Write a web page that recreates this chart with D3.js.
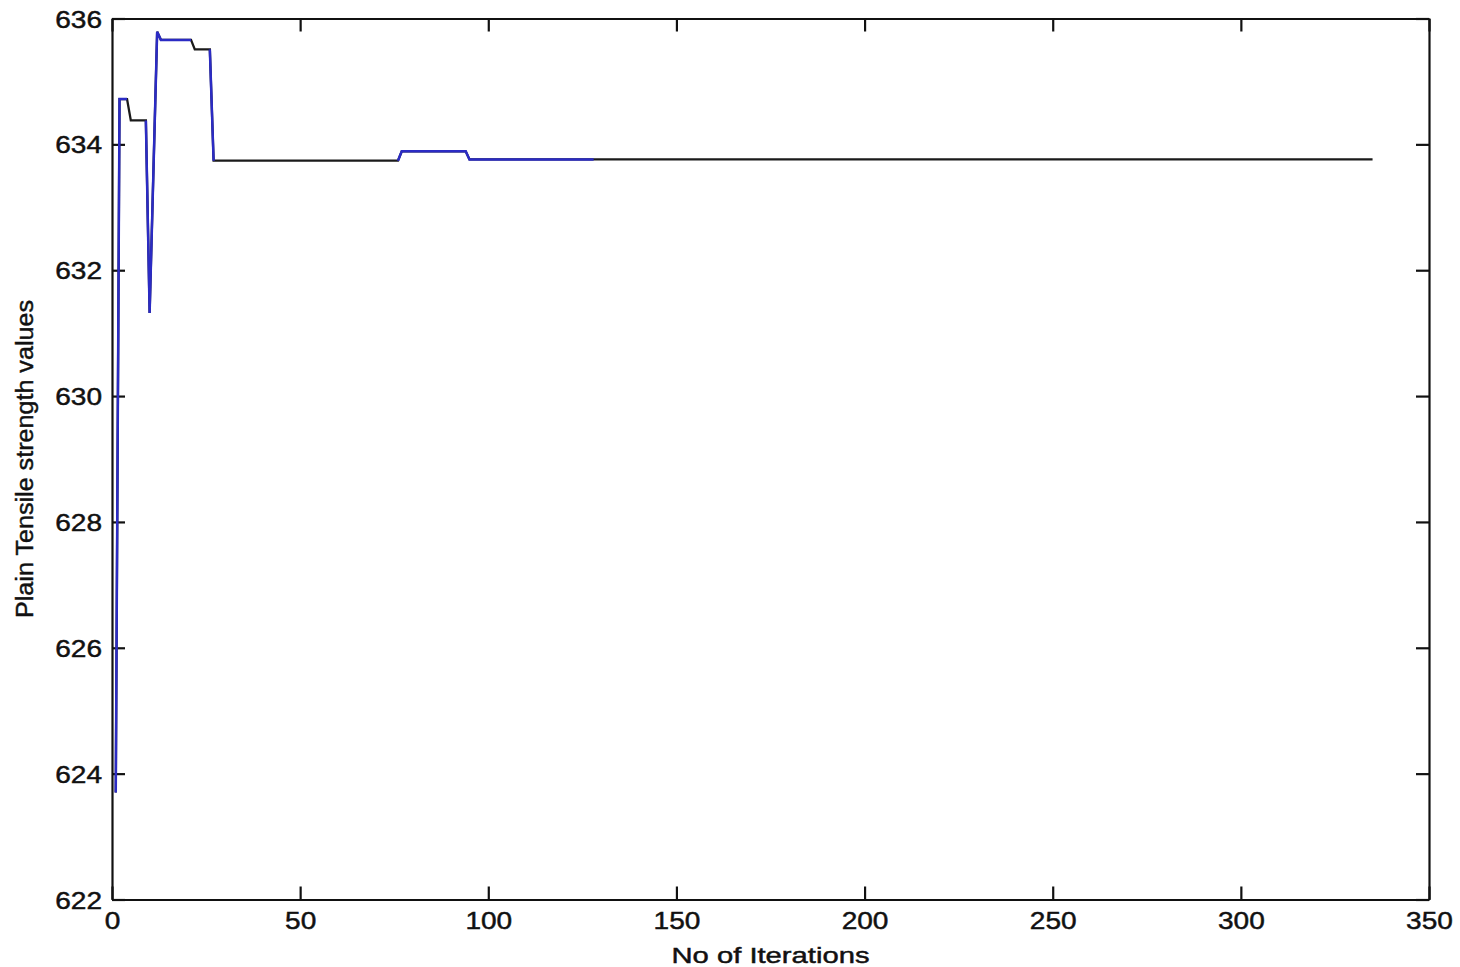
<!DOCTYPE html>
<html>
<head>
<meta charset="utf-8">
<script src="https://cdn.jsdelivr.net/npm/d3@7"></script>
<style>
  body { margin: 0; background: #fff; }
  text { font-family: "Liberation Sans", Arial, sans-serif; fill: #111; stroke: #111; stroke-width: 0.45px; }
</style>
</head>
<body>
<div id="chart"></div>
<script>
// black series: full run of iterations
const blackIter = [1, 2, 4, 5, 9, 10, 12, 13, 21, 22, 26, 27, 76, 77, 94, 95, 335];
const blackVal = [623.7, 634.72, 634.72, 634.38, 634.38, 631.32, 635.79, 635.66, 635.66, 635.51, 635.51, 633.74, 633.74, 633.89, 633.89, 633.76, 633.76];

// blue series: visible parts only (null breaks the line)
const blueIter = [1, 2, 4, 6, 9, 10, 12, 13, 21, 23, 26, 27, 50, 76, 77, 94, 95, 128];
const blueVal = [623.7, 634.72, 634.72, null, 634.38, 631.32, 635.79, 635.66, 635.66, null, 635.51, 633.74, null, 633.74, 633.89, 633.89, 633.76, 633.76];

const xTicks = [0, 50, 100, 150, 200, 250, 300, 350];
const yTicks = [622, 624, 626, 628, 630, 632, 634, 636];

// dimensions
const width = 1460;
const height = 967;
const margin = {top: 18.5, right: 31, bottom: 67.5, left: 112};
const plotWidth = width - margin.left - margin.right;
const plotHeight = height - margin.top - margin.bottom;
const tickLen = 13;
const sx = 1.22;

const svg = d3.select('#chart')
    .append('svg')
    .attr('width', width)
    .attr('height', height);

const g = svg.append('g')
    .attr('transform', 'translate(' + margin.left + ',' + margin.top + ')');

const x = d3.scaleLinear().domain([0, 350]).range([0, plotWidth]);
const y = d3.scaleLinear().domain([622, 636]).range([plotHeight, 0]);

// axes with inward ticks on all four sides
const bottom = g.append('g')
    .attr('transform', 'translate(0,' + plotHeight + ')')
    .call(d3.axisBottom(x).tickValues(xTicks).tickSize(-tickLen).tickSizeOuter(0));
bottom.selectAll('text')
    .attr('y', 0).attr('dy', 0)
    .attr('transform', 'translate(0,29.5) scale(' + sx + ',1)');

const left = g.append('g')
    .call(d3.axisLeft(y).tickValues(yTicks).tickSize(-tickLen).tickSizeOuter(0));
left.selectAll('text')
    .attr('x', 0).attr('dy', '0.37em')
    .attr('transform', 'translate(-10,0) scale(' + sx + ',1)');

g.append('g')
    .call(d3.axisTop(x).tickValues(xTicks).tickSize(-tickLen).tickSizeOuter(0).tickFormat(''));
g.append('g')
    .attr('transform', 'translate(' + plotWidth + ',0)')
    .call(d3.axisRight(y).tickValues(yTicks).tickSize(-tickLen).tickSizeOuter(0).tickFormat(''));

g.selectAll('.domain').attr('stroke', '#111').attr('stroke-width', 2.2);
g.selectAll('.tick line').attr('stroke', '#111').attr('stroke-width', 2.2);
g.selectAll('.tick text')
    .attr('font-size', 23)
    .attr('font-family', '"Liberation Sans", Arial, sans-serif')
    .attr('fill', '#111');

// lines
const line = d3.line()
    .defined(d => d.v !== null)
    .x(d => x(d.i))
    .y(d => y(d.v));

const blackData = blackIter.map((i, k) => ({i: i, v: blackVal[k]}));
const blueData = blueIter.map((i, k) => ({i: i, v: blueVal[k]}));

g.append('path')
    .datum(blackData)
    .attr('fill', 'none')
    .attr('stroke', '#1a1a1a')
    .attr('stroke-width', 2.3)
    .attr('d', line);

g.append('path')
    .datum(blueData)
    .attr('fill', 'none')
    .attr('stroke', '#2b2bc4')
    .attr('stroke-width', 2.5)
    .attr('d', line);

// axis titles
svg.append('text')
    .attr('x', margin.left + plotWidth / 2)
    .attr('y', 963)
    .attr('text-anchor', 'middle')
    .attr('font-size', 22)
    .attr('textLength', 198)
    .attr('lengthAdjust', 'spacingAndGlyphs')
    .text('No of Iterations');

svg.append('text')
    .attr('transform', 'translate(33,' + (margin.top + plotHeight / 2) + ') rotate(-90)')
    .attr('text-anchor', 'middle')
    .attr('font-size', 23)
    .attr('textLength', 318)
    .attr('lengthAdjust', 'spacingAndGlyphs')
    .text('Plain Tensile strength values');
</script>
</body>
</html>
